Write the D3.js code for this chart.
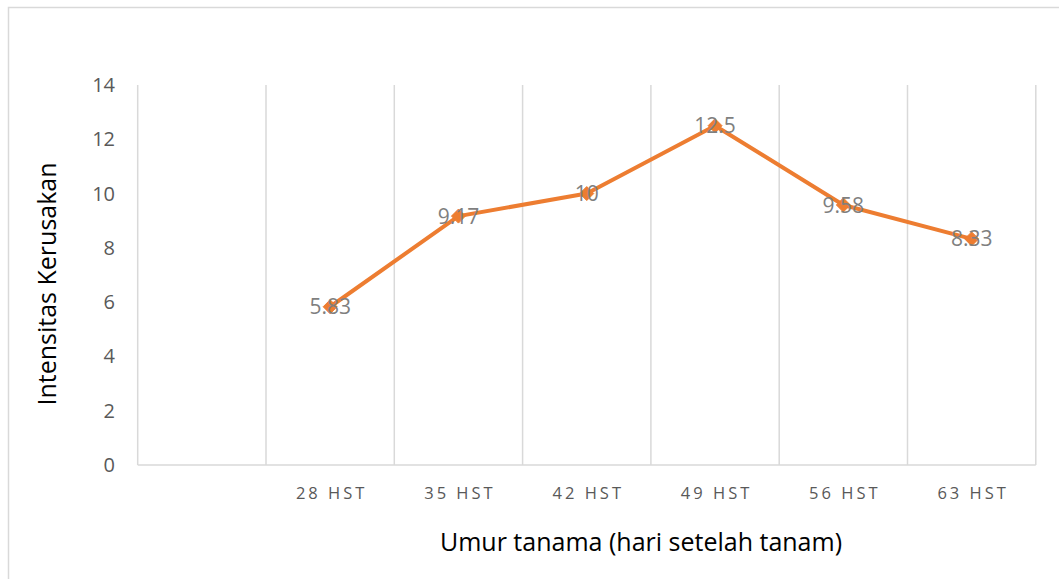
<!DOCTYPE html>
<meta charset="utf-8">
<script src="https://cdn.jsdelivr.net/npm/d3@7"></script>
<style>
  body { margin: 0; background: #fff; }
  text { font-family: "Open Sans", sans-serif; }
</style>
<svg id="chart" width="1059" height="579"></svg>
<script>
  // categories (first one has no label) and values
  var categories = ["", "28 HST", "35 HST", "42 HST", "49 HST", "56 HST", "63 HST"];
  var values = [null, 5.83, 9.17, 10, 12.5, 9.58, 8.33];
  var labels = ["", "5.83", "9.17", "10", "12.5", "9.58", "8.33"];
  var yTicks = [0, 2, 4, 6, 8, 10, 12, 14];

  var svg = d3.select("#chart");

  // chart area border
  svg.append("rect")
    .attr("x", 8.5).attr("y", 7.5)
    .attr("width", 1100).attr("height", 600)
    .attr("fill", "none")
    .attr("stroke", "#d9d9d9")
    .attr("stroke-width", 1.5);

  var plotL = 137.7, plotR = 1035.8, plotT = 85, plotB = 465;

  var x = d3.scaleBand().domain(categories).range([plotL, plotR]);
  var y = d3.scaleLinear().domain([0, 14]).range([plotB, plotT]);
  var cx = function (c) { return x(c) + x.bandwidth() / 2; };

  // vertical gridlines at band edges
  var edges = categories.map(function (c) { return x(c); }).concat([plotR]);
  svg.append("g")
    .selectAll("line")
    .data(edges)
    .enter().append("line")
    .attr("x1", function (d) { return d; })
    .attr("x2", function (d) { return d; })
    .attr("y1", plotT).attr("y2", plotB)
    .attr("stroke", "#d9d9d9")
    .attr("stroke-width", 1.5);

  // bottom axis line
  svg.append("line")
    .attr("x1", plotL).attr("x2", plotR)
    .attr("y1", plotB).attr("y2", plotB)
    .attr("stroke", "#d9d9d9")
    .attr("stroke-width", 1.5);

  // y tick labels
  svg.append("g")
    .selectAll("text")
    .data(yTicks)
    .enter().append("text")
    .attr("x", 115)
    .attr("y", function (d) { return y(d); })
    .attr("dy", "0.35em")
    .attr("text-anchor", "end")
    .style("font-size", "20px")
    .style("fill", "#595959")
    .text(function (d) { return d; });

  // x tick labels
  svg.append("g")
    .selectAll("text")
    .data(categories)
    .enter().append("text")
    .attr("x", function (d) { return cx(d) + 1.5; })
    .attr("y", 493)
    .attr("dy", "0.35em")
    .attr("text-anchor", "middle")
    .style("font-size", "16.5px")
    .style("letter-spacing", "3px")
    .style("fill", "#595959")
    .text(function (d) { return d; });

  // line
  var pts = categories.map(function (c, i) { return { c: c, v: values[i], l: labels[i] }; })
    .filter(function (d) { return d.v !== null; });

  var line = d3.line()
    .x(function (d) { return cx(d.c); })
    .y(function (d) { return y(d.v); });

  svg.append("path")
    .datum(pts)
    .attr("d", line)
    .attr("fill", "none")
    .attr("stroke", "#ED7D31")
    .attr("stroke-width", 4)
    .attr("stroke-linejoin", "round");

  // diamond markers
  svg.append("g")
    .selectAll("path")
    .data(pts)
    .enter().append("path")
    .attr("transform", function (d) { return "translate(" + cx(d.c) + "," + y(d.v) + ")"; })
    .attr("d", "M0,-7L7,0L0,7L-7,0Z")
    .attr("fill", "#ED7D31")
    .attr("stroke", "#ED7D31")
    .attr("stroke-width", 1);

  // data labels
  svg.append("g")
    .selectAll("text")
    .data(pts)
    .enter().append("text")
    .attr("x", function (d) { return cx(d.c); })
    .attr("y", function (d) { return y(d.v); })
    .attr("dy", "0.36em")
    .attr("text-anchor", "middle")
    .style("font-size", "21px")
    .style("fill", "#7f7f7f")
    .text(function (d) { return d.l; });

  // axis titles
  svg.append("text")
    .attr("x", 641)
    .attr("y", 542)
    .attr("dy", "0.35em")
    .attr("text-anchor", "middle")
    .style("font-size", "25px")
    .style("fill", "#000")
    .text("Umur tanama (hari setelah tanam)");

  svg.append("text")
    .attr("transform", "translate(47,284) rotate(-90)")
    .attr("dy", "0.35em")
    .attr("text-anchor", "middle")
    .style("font-size", "25px")
    .style("fill", "#000")
    .text("Intensitas Kerusakan");
</script>
